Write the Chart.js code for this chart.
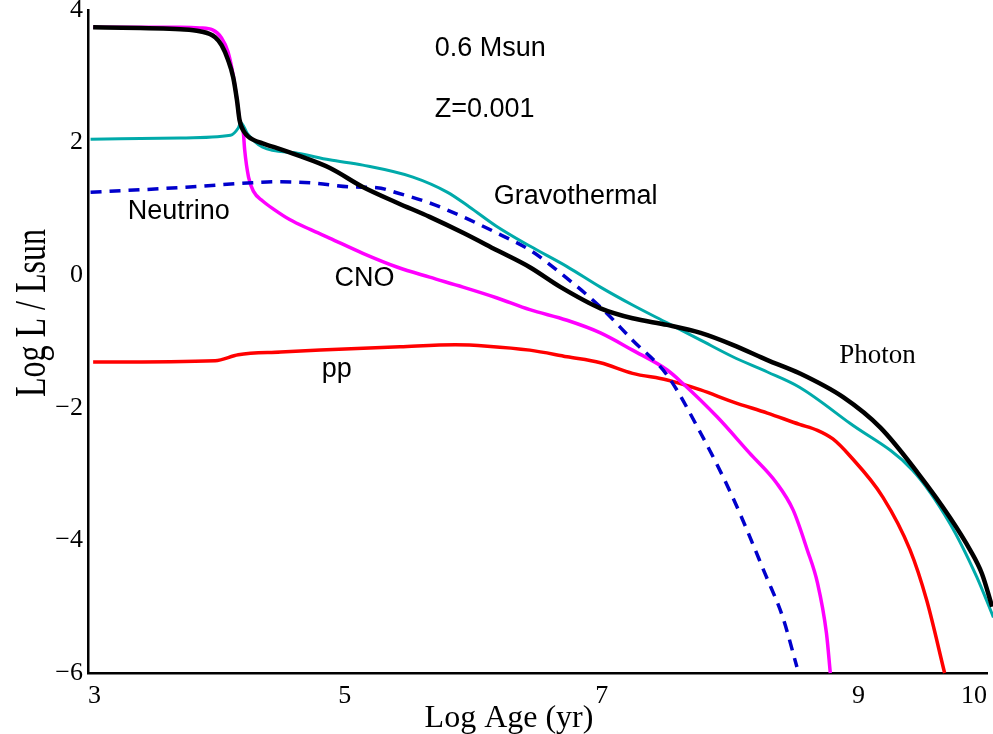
<!DOCTYPE html>
<html>
<head>
<meta charset="utf-8">
<script src="https://cdn.jsdelivr.net/npm/chart.js@4/dist/chart.umd.min.js"></script>
<style>
  html, body { margin: 0; padding: 0; background: #fff; }
  #wrap { width: 993px; height: 734px; position: relative; }
</style>
</head>
<body>
<div id="wrap"><canvas id="lumCanvas"></canvas></div>
<script>
// log age (yr) / log L/Lsun
var photonAge = [3.04, 3.72, 3.87, 3.99, 4.04, 4.09, 4.13, 4.16, 4.18, 4.22, 4.30, 4.36, 4.63, 4.88, 5.14, 5.41, 5.66, 5.92, 6.18, 6.44, 6.68, 6.99, 7.24, 7.51, 7.77, 8.02, 8.29, 8.54, 8.88, 9.17, 9.46, 9.71, 9.87, 9.96, 10.04];
var photonLum = [3.74, 3.71, 3.68, 3.59, 3.47, 3.25, 2.99, 2.64, 2.34, 2.15, 2.03, 1.99, 1.81, 1.62, 1.33, 1.09, 0.88, 0.64, 0.38, 0.12, -0.18, -0.50, -0.65, -0.75, -0.87, -1.05, -1.28, -1.48, -1.84, -2.30, -2.98, -3.65, -4.15, -4.50, -5.00];

var gravAge = [3.02, 3.72, 4.11, 4.17, 4.19, 4.24, 4.36, 4.63, 4.88, 5.14, 5.53, 5.80, 5.97, 6.18, 6.44, 6.73, 6.99, 7.24, 7.51, 7.77, 8.02, 8.29, 8.54, 8.93, 9.42, 9.71, 9.92, 10.05];
var gravLum = [2.05, 2.07, 2.11, 2.22, 2.30, 2.14, 1.93, 1.84, 1.74, 1.66, 1.48, 1.25, 1.03, 0.74, 0.44, 0.13, -0.18, -0.45, -0.72, -0.98, -1.23, -1.46, -1.69, -2.23, -2.94, -3.74, -4.55, -5.16];

var cnoAge = [3.04, 3.72, 3.87, 3.97, 4.04, 4.09, 4.13, 4.16, 4.18, 4.21, 4.22, 4.25, 4.29, 4.36, 4.45, 4.57, 4.73, 4.88, 5.14, 5.41, 5.66, 5.92, 6.18, 6.44, 6.73, 6.99, 7.24, 7.51, 7.63, 7.90, 8.15, 8.36, 8.49, 8.60, 8.68, 8.75, 8.78];
var cnoLum = [3.74, 3.74, 3.73, 3.70, 3.58, 3.37, 3.02, 2.64, 2.34, 2.14, 1.89, 1.48, 1.26, 1.12, 0.99, 0.84, 0.69, 0.56, 0.33, 0.12, -0.03, -0.18, -0.34, -0.52, -0.68, -0.87, -1.13, -1.43, -1.63, -2.14, -2.68, -3.13, -3.54, -4.14, -4.64, -5.40, -6.0];

var neuAge = [3.02, 3.79, 4.24, 4.50, 4.75, 5.06, 5.25, 5.41, 5.66, 5.92, 6.18, 6.44, 6.68, 6.99, 7.24, 7.51, 7.77, 8.02, 8.28, 8.41, 8.52];
var neuLum = [1.25, 1.33, 1.39, 1.41, 1.39, 1.33, 1.32, 1.24, 1.09, 0.88, 0.64, 0.38, 0.03, -0.48, -0.98, -1.51, -2.38, -3.35, -4.54, -5.16, -5.91];

var ppAge = [3.04, 3.99, 4.17, 4.50, 4.81, 5.43, 5.86, 6.11, 6.44, 6.73, 6.99, 7.24, 7.51, 7.77, 8.02, 8.29, 8.54, 8.68, 8.80, 8.93, 9.19, 9.40, 9.53, 9.67];
var ppLum = [-1.31, -1.29, -1.20, -1.16, -1.13, -1.08, -1.05, -1.07, -1.13, -1.23, -1.32, -1.48, -1.58, -1.73, -1.91, -2.08, -2.25, -2.34, -2.47, -2.72, -3.35, -4.14, -4.90, -6.0];

var xTicks = [3, 5, 7, 9, 10];
var yTicks = [4, 2, 0, -2, -4, -6];

// text placed inside the plot (data coords)
var notes = [
    { text: '0.6 Msun', x: 5.70, y: 3.30, font: '27px "Liberation Sans", Arial, sans-serif' },
    { text: 'Z=0.001', x: 5.70, y: 2.39, font: '27px "Liberation Sans", Arial, sans-serif' },
    { text: 'Gravothermal', x: 6.16, y: 1.07, font: '27px "Liberation Sans", Arial, sans-serif' },
    { text: 'Neutrino', x: 3.31, y: 0.85, font: '27px "Liberation Sans", Arial, sans-serif' },
    { text: 'CNO', x: 4.92, y: -0.16, font: '27px "Liberation Sans", Arial, sans-serif' },
    { text: 'pp', x: 4.82, y: -1.53, font: '27px "Liberation Sans", Arial, sans-serif' },
    { text: 'Photon', x: 8.85, y: -1.33, font: '27px "Liberation Serif", "Times New Roman", serif' }
];

function pts(xs, ys) {
    return xs.map(function (x, i) { return { x: x, y: ys[i] }; });
}

var textPlugin = {
    id: 'figText',
    afterDatasetsDraw: function (chart) {
        var ctx = chart.ctx;
        var sx = chart.scales.x, sy = chart.scales.y;
        ctx.save();
        ctx.fillStyle = '#000';
        ctx.textBaseline = 'alphabetic';
        ctx.textAlign = 'left';
        notes.forEach(function (n) {
            ctx.font = n.font;
            ctx.fillText(n.text, sx.getPixelForValue(n.x), sy.getPixelForValue(n.y));
        });
        // axis titles
        ctx.font = '32px "Liberation Serif", "Times New Roman", serif';
        ctx.textAlign = 'center';
        ctx.fillText('Log Age (yr)', 509, 727);
        ctx.translate(45, 313);
        ctx.rotate(-Math.PI / 2);
        ctx.scale(1, 1.4);
        ctx.fillText('Log L / Lsun', 0, 0);
        ctx.restore();
    }
};

function lineSet(label, xs, ys, color, width, dash) {
    return {
        label: label,
        data: pts(xs, ys),
        borderColor: color,
        borderWidth: width,
        borderDash: dash || [],
        pointRadius: 0,
        fill: false,
        cubicInterpolationMode: 'monotone',
        clip: 8
    };
}

new Chart(document.getElementById('lumCanvas'), {
    type: 'line',
    data: {
        datasets: [
            lineSet('Photon', photonAge, photonLum, '#000000', 4.5),
            lineSet('Gravothermal', gravAge, gravLum, '#00AAAA', 3),
            lineSet('Neutrino', neuAge, neuLum, '#0000CC', 3.5, [11, 8]),
            lineSet('CNO', cnoAge, cnoLum, '#FF00FF', 3.5),
            lineSet('pp', ppAge, ppLum, '#FF0000', 3.5)
        ]
    },
    options: {
        responsive: true,
        maintainAspectRatio: false,
        animation: false,
        layout: { padding: { top: 10, right: 6, left: 0, bottom: 0 } },
        plugins: { legend: { display: false }, tooltip: { enabled: false } },
        scales: {
            x: {
                type: 'linear',
                min: 3,
                max: 10,
                grid: { display: false, drawTicks: false },
                border: { color: '#000', width: 2.5 },
                afterBuildTicks: function (s) { s.ticks = xTicks.map(function (v) { return { value: v }; }); },
                afterFit: function (s) { s.height = 61; s.paddingLeft = 0; s.paddingRight = 0; },
                ticks: {
                    color: '#000',
                    padding: 8,
                    maxRotation: 0,
                    align: 'inner',
                    font: { family: '"Liberation Serif", "Times New Roman", serif', size: 26 }
                }
            },
            y: {
                min: -6,
                max: 4,
                grid: { display: false, drawTicks: false },
                border: { color: '#000', width: 2.5 },
                afterBuildTicks: function (s) { s.ticks = yTicks.map(function (v) { return { value: v }; }); },
                afterFit: function (s) { s.width = 88; s.paddingTop = 0; s.paddingBottom = 0; },
                ticks: {
                    color: '#000',
                    padding: 5,
                    font: { family: '"Liberation Serif", "Times New Roman", serif', size: 26 },
                    callback: function (v) { return v < 0 ? '\u2212' + Math.abs(v) : String(v); }
                }
            }
        }
    },
    plugins: [textPlugin]
});
</script>
</body>
</html>
